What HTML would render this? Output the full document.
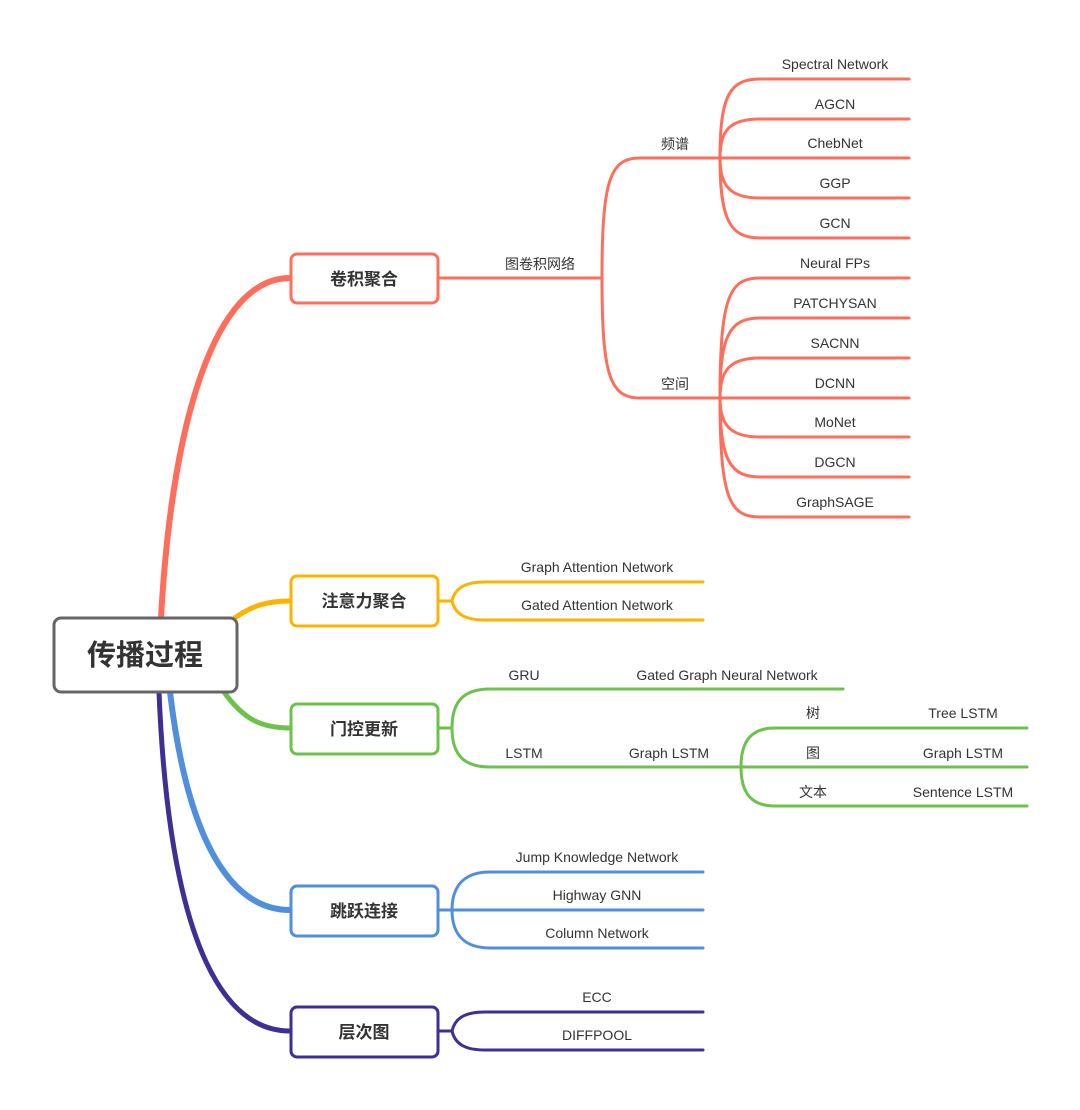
<!DOCTYPE html>
<html><head><meta charset="utf-8"><style>
html,body{margin:0;padding:0;background:#fff;}
svg{display:block;}
text{font-family:"Liberation Sans","Noto Sans CJK SC",sans-serif;fill:#333;font-size:14px;text-anchor:middle;}
.b{font-weight:bold;font-size:17px;}
.r{font-weight:bold;font-size:29px;}
</style></head><body>
<svg width="1080" height="1110" viewBox="0 0 1080 1110" xmlns="http://www.w3.org/2000/svg">
<g fill="none" stroke-linecap="round">
<!-- main connectors -->
<path d="M161,618 C172,420 215,278 290,278" stroke="#ff6e5b" stroke-width="6"/>
<path d="M232,620 C252,605 268,601 290,601" stroke="#ffb300" stroke-width="5"/>
<path d="M224,692 C244,720 262,728 290,728" stroke="#6cc24a" stroke-width="5"/>
<path d="M170,692 C190,860 240,910 290,910" stroke="#4f8fdd" stroke-width="6"/>
<path d="M159,692 C170,960 230,1031 290,1031" stroke="#3d2f96" stroke-width="5"/>

<!-- red subtree -->
<g stroke="#ff6e5b" stroke-width="3">
<path d="M438,278 H602"/>
<path d="M602,278 C602,180 610,158 640,158 H720"/>
<path d="M602,278 C602,376 610,398 640,398 H720"/>
<path d="M720,158 C720,95 730,79 760,79 H909"/>
<path d="M720,158 C720,130 730,119 760,119 H909"/>
<path d="M720,158 H909"/>
<path d="M720,158 C720,186 730,198 760,198 H909"/>
<path d="M720,158 C720,220 730,238 760,238 H909"/>
<path d="M720,398 C720,295 730,278 760,278 H909"/>
<path d="M720,398 C720,335 730,318 760,318 H909"/>
<path d="M720,398 C720,370 730,358 760,358 H909"/>
<path d="M720,398 H909"/>
<path d="M720,398 C720,425 730,437 760,437 H909"/>
<path d="M720,398 C720,460 730,477 760,477 H909"/>
<path d="M720,398 C720,500 730,517 760,517 H909"/>
</g>
<!-- yellow -->
<g stroke="#ffb300" stroke-width="3">
<path d="M438,601 H452"/>
<path d="M452,601 C455,588 465,582 485,582 H703"/>
<path d="M452,601 C455,614 465,620 485,620 H703"/>
</g>
<!-- green -->
<g stroke="#6cc24a" stroke-width="3">
<path d="M438,728 H452"/>
<path d="M452,728 C452,700 465,689 490,689 H843"/>
<path d="M452,728 C452,756 465,767 490,767 H1027"/>
<path d="M741,767 C741,740 752,728 775,728 H1027"/>
<path d="M741,767 C741,794 752,806 775,806 H1027"/>
</g>
<!-- blue -->
<g stroke="#4f8fdd" stroke-width="3">
<path d="M438,910 H703"/>
<path d="M452,910 C452,885 465,872 490,872 H703"/>
<path d="M452,910 C452,935 465,948 490,948 H703"/>
</g>
<!-- purple -->
<g stroke="#3d2f96" stroke-width="3">
<path d="M438,1031 H452"/>
<path d="M452,1031 C455,1018 465,1012 485,1012 H703"/>
<path d="M452,1031 C455,1044 465,1050 485,1050 H703"/>
</g>

<!-- boxes -->
<rect x="54" y="618" width="183" height="74" rx="7" fill="#fff" stroke="#666" stroke-width="3"/>
<rect x="291" y="254" width="147" height="49" rx="6" fill="#fff" stroke="#ff6e5b" stroke-width="3"/>
<rect x="291" y="576" width="147" height="50" rx="6" fill="#fff" stroke="#ffb300" stroke-width="3"/>
<rect x="291" y="704" width="147" height="50" rx="6" fill="#fff" stroke="#6cc24a" stroke-width="3"/>
<rect x="291" y="886" width="147" height="50" rx="6" fill="#fff" stroke="#4f8fdd" stroke-width="3"/>
<rect x="291" y="1007" width="147" height="50" rx="6" fill="#fff" stroke="#3d2f96" stroke-width="3"/>
</g>

<text class="r" x="145" y="665">传播过程</text>
<text class="b" x="364" y="285">卷积聚合</text>
<text class="b" x="364" y="607">注意力聚合</text>
<text class="b" x="364" y="735">门控更新</text>
<text class="b" x="364" y="917">跳跃连接</text>
<text class="b" x="364" y="1038">层次图</text>

<text x="540" y="269">图卷积网络</text>
<text x="675" y="149">频谱</text>
<text x="675" y="389">空间</text>
<text x="835" y="69">Spectral Network</text>
<text x="835" y="109">AGCN</text>
<text x="835" y="148">ChebNet</text>
<text x="835" y="188">GGP</text>
<text x="835" y="228">GCN</text>
<text x="835" y="268">Neural FPs</text>
<text x="835" y="308">PATCHYSAN</text>
<text x="835" y="348">SACNN</text>
<text x="835" y="388">DCNN</text>
<text x="835" y="427">MoNet</text>
<text x="835" y="467">DGCN</text>
<text x="835" y="507">GraphSAGE</text>

<text x="597" y="572">Graph Attention Network</text>
<text x="597" y="610">Gated Attention Network</text>

<text x="524" y="680">GRU</text>
<text x="727" y="680">Gated Graph Neural Network</text>
<text x="524" y="758">LSTM</text>
<text x="669" y="758">Graph LSTM</text>
<text x="813" y="718">树</text>
<text x="963" y="718">Tree LSTM</text>
<text x="813" y="758">图</text>
<text x="963" y="758">Graph LSTM</text>
<text x="813" y="797">文本</text>
<text x="963" y="797">Sentence LSTM</text>

<text x="597" y="862">Jump Knowledge Network</text>
<text x="597" y="900">Highway GNN</text>
<text x="597" y="938">Column  Network</text>

<text x="597" y="1002">ECC</text>
<text x="597" y="1040">DIFFPOOL</text>
</svg>
</body></html>
